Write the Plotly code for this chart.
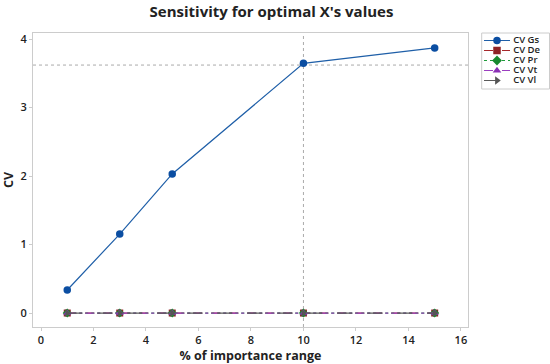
import plotly.graph_objects as go

# ---- data ----
x_vals = [1, 3, 5, 10, 15]
cv_gs = [0.336, 1.153, 2.03, 3.645, 3.87]
cv_de = [0, 0, 0, 0, 0]
cv_pr = [0, 0, 0, 0, 0]
cv_vt = [0, 0, 0, 0, 0]
cv_vl = [0, 0, 0, 0, 0]
series_names = ["CV Gs", "CV De", "CV Pr", "CV Vt", "CV Vl"]
ref_x = 10
ref_y = 3.62
x_ticks = [0, 2, 4, 6, 8, 10, 12, 14, 16]
y_ticks = [0, 1, 2, 3, 4]

# ---- styles ----
series_vals = [cv_gs, cv_de, cv_pr, cv_vt, cv_vl]
line_cols = ["#1f5fa8", "#a6282c", "#1f9b3a", "#9b3fc0", "#5a5a5a"]
marker_cols = ["#0b4ea2", "#8e2226", "#17892f", "#8a2fb5", "#555555"]
symbols = ["circle", "square", "diamond", "triangle-up", "triangle-right"]
dashes = ["solid", "dash", "dot", "dashdot", "longdash"]

W, H = 550, 364
L, R, T, B = 33, 0, 33, 37
plot_w = W - L - R
plot_h = H - T - B
frame_right = 468
x_dom_end = (frame_right - L) / plot_w

fig = go.Figure()
for name, ys, lc, mc, sym, dash in zip(series_names, series_vals, line_cols, marker_cols, symbols, dashes):
    fig.add_trace(go.Scatter(
        x=x_vals, y=ys, name=name, mode="lines+markers", showlegend=False,
        line=dict(color=lc, width=1.2, dash=dash),
        marker=dict(symbol=sym, size=7.5 if name == "CV Gs" else 7, color=mc),
        xaxis="x", yaxis="y",
    ))

fig.add_shape(type="line", xref="x", yref="y domain", x0=ref_x, x1=ref_x, y0=0, y1=1,
              line=dict(color="#aaaaaa", width=1, dash="dot"), layer="below")
fig.add_shape(type="line", xref="x domain", yref="y", x0=0, x1=1, y0=ref_y, y1=ref_y,
              line=dict(color="#aaaaaa", width=1, dash="dot"), layer="below")

# ---- compact legend drawn on a helper axis (pixel units) ----
leg_left, leg_right, leg_top, leg_bottom = 481.7, 549.5, 33, 89
leg_rows = [40.5, 50.5, 60.5, 70.5, 80.5]
for i, (name, lc, mc, sym, dash) in enumerate(zip(series_names, line_cols, marker_cols, symbols, dashes)):
    yv = leg_bottom - leg_rows[i]
    fig.add_trace(go.Scatter(x=[2.3, 28.3], y=[yv, yv], mode="lines", showlegend=False, hoverinfo="skip",
                             line=dict(color=lc, width=1.2, dash=dash), xaxis="x2", yaxis="y2"))
    fig.add_trace(go.Scatter(x=[15.3], y=[yv], mode="markers", showlegend=False, hoverinfo="skip",
                             marker=dict(symbol=sym, size=7.5, color=mc), xaxis="x2", yaxis="y2"))
    fig.add_trace(go.Scatter(x=[31.5], y=[yv], mode="text", text=[name], textposition="middle right",
                             showlegend=False, hoverinfo="skip",
                             textfont=dict(size=9.5, color="#222222", weight=600),
                             xaxis="x2", yaxis="y2"))
fig.add_shape(type="rect", xref="x2 domain", yref="y2 domain", x0=0, x1=1, y0=0, y1=1,
              line=dict(color="#cccccc", width=1), fillcolor="rgba(0,0,0,0)")

font_family = "Open Sans, Noto Sans, sans-serif"
axis_common = dict(showgrid=False, zeroline=False, showline=True, linecolor="#cccccc", mirror=True,
                   ticks="outside", ticklen=3, tickcolor="#cccccc", automargin=False,
                   tickfont=dict(size=11, color="#222222", weight=600))
fig.update_layout(
    width=W, height=H,
    margin=dict(l=L, r=R, t=T, b=B, autoexpand=False),
    paper_bgcolor="white", plot_bgcolor="white",
    title=dict(text="<b>Sensitivity for optimal X's values</b>", xref="container", x=271.5 / W,
               xanchor="center", yref="container", y=1 - 12 / H, yanchor="middle",
               font=dict(size=15, color="#222222", family=font_family)),
    font=dict(family=font_family, color="#222222", size=11),
    showlegend=False,
    xaxis=dict(domain=[0, x_dom_end], range=[-0.305, 16.27], tickvals=x_ticks,
               title=dict(text="<b>% of importance range</b>", font=dict(size=12.5), standoff=2),
               **axis_common),
    yaxis=dict(range=[-0.204, 4.088], tickvals=y_ticks,
               title=dict(text="<b>CV</b>", font=dict(size=12.5), standoff=4),
               **axis_common),
    xaxis2=dict(domain=[(leg_left - L) / plot_w, (leg_right - L) / plot_w],
                range=[0, leg_right - leg_left], visible=False, fixedrange=True, anchor="y2"),
    yaxis2=dict(domain=[(H - B - leg_bottom) / plot_h, (H - B - leg_top) / plot_h],
                range=[0, leg_bottom - leg_top], visible=False, fixedrange=True, anchor="x2"),
)

fig.write_html("out.html", config={"displayModeBar": False},
               post_script="document.body.style.margin='0';document.body.style.overflow='hidden';")
